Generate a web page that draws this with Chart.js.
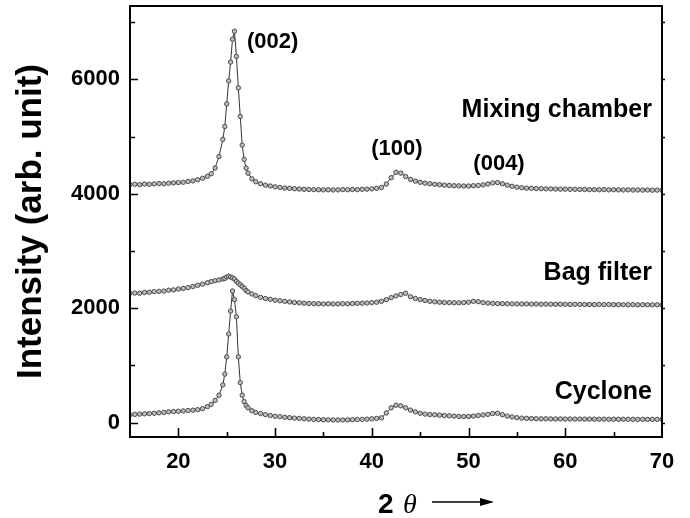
<!DOCTYPE html>
<html>
<head>
<meta charset="utf-8">
<script src="https://cdn.jsdelivr.net/npm/chart.js@4.4.1/dist/chart.umd.min.js"></script>
<style>
  body { margin: 0; background: #fff; }
  canvas { display: block; }
</style>
</head>
<body>
<canvas id="xrd-chart" width="690" height="518"></canvas>
<script>
// 2 theta (deg)
const angles = [
  15, 15.5, 16, 16.5, 17, 17.5, 18, 18.5, 19, 19.5,
  20, 20.5, 21, 21.5, 22, 22.5, 23, 23.4, 23.8, 24.2,
  24.6, 24.8, 25, 25.2, 25.4, 25.6, 25.8, 26, 26.2, 26.4,
  26.6, 26.8, 27, 27.2, 27.6, 28, 28.5, 29, 29.5, 30,
  30.5, 31, 31.5, 32, 32.5, 33, 33.5, 34, 34.5, 35,
  35.5, 36, 36.5, 37, 37.5, 38, 38.5, 39, 39.5, 40,
  40.5, 41, 41.5, 42, 42.5, 43, 43.5, 44, 44.5, 45,
  45.5, 46, 46.5, 47, 47.5, 48, 48.5, 49, 49.5, 50,
  50.5, 51, 51.5, 52, 52.5, 53, 53.5, 54, 54.5, 55,
  55.5, 56, 56.5, 57, 57.5, 58, 58.5, 59, 59.5, 60,
  60.5, 61, 61.5, 62, 62.5, 63, 63.5, 64, 64.5, 65,
  65.5, 66, 66.5, 67, 67.5, 68, 68.5, 69, 69.5, 70
];

const mixingChamber = [
  4160, 4165, 4158, 4170, 4165, 4172, 4178, 4175, 4185, 4190,
  4195, 4200, 4215, 4225, 4245, 4270, 4305, 4350, 4450, 4650,
  4950, 5175, 5570, 5970, 6300, 6700, 6840, 6400, 5850, 5350,
  4850, 4600, 4450, 4360, 4260, 4210, 4175, 4150, 4135, 4120,
  4110, 4100, 4095, 4088, 4082, 4078, 4075, 4072, 4070, 4068,
  4070, 4066, 4068, 4072, 4070, 4075, 4072, 4078, 4080, 4085,
  4095, 4110, 4170, 4280, 4375, 4360, 4300, 4250, 4220, 4200,
  4185, 4175, 4165, 4158, 4150, 4145, 4140, 4138, 4135, 4135,
  4140, 4145, 4155, 4170, 4190, 4195, 4175, 4150, 4130, 4115,
  4105, 4098, 4095, 4090, 4088, 4085, 4085, 4082, 4080, 4080,
  4078, 4078, 4075, 4075, 4072, 4072, 4070, 4072, 4068, 4070,
  4068, 4066, 4068, 4065, 4066, 4064, 4065, 4062, 4064, 4062
];

const bagFilter = [
  2260, 2265, 2262, 2275, 2280, 2290, 2295, 2300, 2315, 2320,
  2335, 2345, 2360, 2380, 2400, 2420, 2445, 2465, 2480, 2495,
  2510, 2520, 2545, 2560, 2545, 2530, 2510, 2470, 2440, 2410,
  2380, 2350, 2310, 2285, 2250, 2220, 2190, 2170, 2155, 2140,
  2130, 2120, 2110, 2100, 2095, 2088, 2082, 2080, 2078, 2075,
  2078, 2074, 2076, 2080, 2078, 2082, 2085, 2088, 2092, 2098,
  2105, 2120, 2150, 2185, 2215, 2240, 2262, 2200, 2170, 2150,
  2135, 2120, 2112, 2105, 2100, 2098, 2095, 2095, 2098, 2105,
  2120, 2115, 2098, 2090, 2085, 2082, 2080, 2078, 2076, 2075,
  2074, 2075, 2072, 2074, 2070, 2072, 2070, 2068, 2070, 2068,
  2066, 2068, 2066, 2065, 2066, 2064, 2065, 2063, 2064, 2062,
  2063, 2062, 2060, 2062, 2060, 2061, 2060, 2058, 2060, 2058
];

const cyclone = [
  140, 145, 150, 155, 160, 165, 172, 180, 190, 195,
  200, 205, 212, 218, 228, 245, 280, 320, 390, 480,
  660, 850, 1150, 1550, 1950, 2300, 2150, 1850, 1150, 700,
  480, 370, 300, 260, 210, 180, 160, 140, 125, 112,
  105, 95, 88, 80, 75, 68, 62, 58, 55, 52,
  50, 48, 47, 48, 50, 52, 55, 58, 62, 68,
  75, 85, 170, 260, 305, 295, 260, 220, 190, 165,
  150, 142, 138, 132, 125, 120, 115, 110, 108, 108,
  115, 125, 135, 145, 160, 165, 140, 115, 100, 88,
  80, 76, 72, 70, 68, 68, 66, 65, 66, 64,
  65, 63, 64, 62, 63, 62, 61, 62, 60, 61,
  60, 60, 59, 60, 58, 59, 58, 58, 57, 58
];

const seriesNames = ["Mixing chamber", "Bag filter", "Cyclone"];
const xTickValues = [20, 30, 40, 50, 60, 70];
const yTickValues = [0, 2000, 4000, 6000];
const xRange = { min: 15, max: 70, minor: 5 };
const yRange = { min: -250, max: 7280, minor: 1000 };

const sans = "'Liberation Sans', Arial, Helvetica, sans-serif";

// text placed on the plot, in data units
const notes = [
  { text: "(002)", x: 27.1, y: 6553, align: "left", size: 22 },
  { text: "(100)", x: 42.6, y: 4683, align: "center", size: 22 },
  { text: "(004)", x: 53.15, y: 4418, align: "center", size: 22 },
  { text: seriesNames[0], x: 68.96, y: 5348, align: "right", size: 25 },
  { text: seriesNames[1], x: 68.96, y: 2496, align: "right", size: 25 },
  { text: seriesNames[2], x: 68.96, y: 415, align: "right", size: 25 }
];

function toPoints(values) {
  return angles.map((a, i) => ({ x: a, y: values[i] }));
}

function makeSet(label, values) {
  return {
    label: label,
    data: toPoints(values),
    borderColor: "#333",
    borderWidth: 1,
    pointRadius: 2.2,
    pointBorderWidth: 1,
    pointBorderColor: "#4a4a4a",
    pointBackgroundColor: "#bdbdbd",
    tension: 0,
    fill: false
  };
}

const framePlugin = {
  id: "frame",
  afterDraw(chart) {
    const { ctx, chartArea: a, scales } = chart;
    const x = scales.x, y = scales.y;
    ctx.save();
    ctx.strokeStyle = "#000";
    ctx.lineWidth = 2;
    ctx.strokeRect(a.left, a.top, a.right - a.left, a.bottom - a.top);

    ctx.lineWidth = 1.6;
    ctx.beginPath();
    for (let v = 0; v <= yRange.max; v += yRange.minor) {
      const py = Math.round(y.getPixelForValue(v)) + 0.5;
      const len = yTickValues.includes(v) ? 8 : 5;
      ctx.moveTo(a.left, py); ctx.lineTo(a.left + len, py);
      ctx.moveTo(a.right, py); ctx.lineTo(a.right + 3, py);
    }
    for (let v = 20; v < xRange.max; v += xRange.minor) {
      const px = Math.round(x.getPixelForValue(v)) + 0.5;
      const len = xTickValues.includes(v) ? 9 : 5;
      ctx.moveTo(px, a.bottom); ctx.lineTo(px, a.bottom - len);
    }
    ctx.stroke();

    // annotations
    ctx.fillStyle = "#000";
    ctx.textBaseline = "alphabetic";
    notes.forEach(n => {
      ctx.font = "bold " + n.size + "px " + sans;
      ctx.textAlign = n.align;
      ctx.fillText(n.text, x.getPixelForValue(n.x), y.getPixelForValue(n.y));
    });

    // x axis title: 2 theta with arrow
    const cx = (a.left + a.right) / 2;
    const base = 513;
    ctx.textAlign = "left";
    ctx.font = "bold 28px " + sans;
    ctx.fillText("2", cx - 18, base);
    ctx.font = "italic 28px 'Liberation Serif', 'Times New Roman', serif";
    ctx.fillText("\u03b8", cx + 7, base);
    const ay = 502;
    ctx.lineWidth = 1.5;
    ctx.beginPath();
    ctx.moveTo(cx + 36, ay); ctx.lineTo(cx + 90, ay);
    ctx.stroke();
    ctx.beginPath();
    ctx.moveTo(cx + 98, ay); ctx.lineTo(cx + 84, ay - 4); ctx.lineTo(cx + 84, ay + 4);
    ctx.closePath();
    ctx.fill();
    ctx.restore();
  }
};

new Chart(document.getElementById("xrd-chart"), {
  type: "line",
  data: {
    datasets: [
      makeSet(seriesNames[0], mixingChamber),
      makeSet(seriesNames[1], bagFilter),
      makeSet(seriesNames[2], cyclone)
    ]
  },
  options: {
    responsive: false,
    animation: false,
    layout: { padding: { top: 6, right: 28, left: 0, bottom: 0 } },
    plugins: {
      legend: { display: false },
      tooltip: { enabled: false }
    },
    scales: {
      x: {
        type: "linear",
        min: xRange.min,
        max: xRange.max,
        grid: { display: false, drawTicks: false },
        border: { display: false },
        afterBuildTicks(scale) {
          scale.ticks = xTickValues.map(v => ({ value: v }));
        },
        ticks: {
          padding: 12,
          color: "#000",
          font: { family: sans, size: 22, weight: "bold" },
          callback: v => String(v)
        },
        afterFit(scale) {
          scale.height = 81;
          scale.paddingLeft = 0;
          scale.paddingRight = 0;
        }
      },
      y: {
        min: yRange.min,
        max: yRange.max,
        grid: { display: false, drawTicks: false },
        border: { display: false },
        afterBuildTicks(scale) {
          scale.ticks = yTickValues.map(v => ({ value: v }));
        },
        ticks: {
          padding: 10,
          color: "#000",
          font: { family: sans, size: 22, weight: "bold" },
          callback: v => String(v)
        },
        title: {
          display: true,
          text: "Intensity (arb. unit)",
          color: "#000",
          padding: { top: 10, bottom: 0 },
          font: { family: sans, size: 35, weight: "bold" }
        },
        afterFit(scale) {
          scale.width = 130;
          scale.paddingTop = 0;
          scale.paddingBottom = 0;
        }
      }
    }
  },
  plugins: [framePlugin]
});
</script>
</body>
</html>
